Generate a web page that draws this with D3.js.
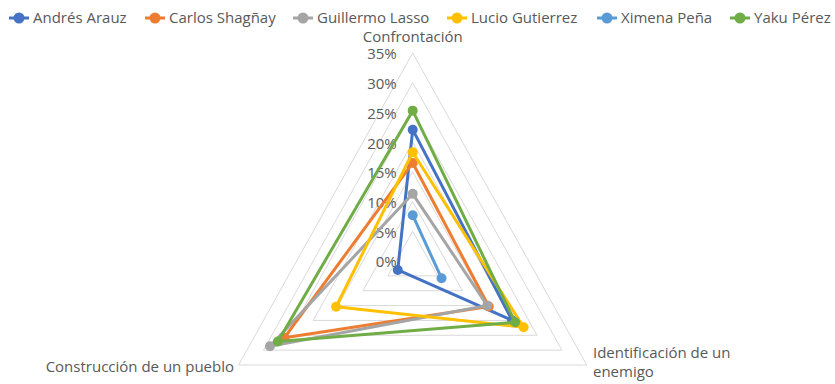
<!DOCTYPE html>
<html>
<head>
<meta charset="utf-8">
<script src="https://cdn.jsdelivr.net/npm/d3@7"></script>
<style>
  html, body { margin: 0; padding: 0; background: #fff; }
  svg { display: block; font-family: "Open Sans", sans-serif; }
</style>
</head>
<body>
<svg id="chart" width="835" height="384"></svg>
<script>
// Axes of the radar (clockwise from the top)
const axes = ["Confrontación", "Identificación de un enemigo", "Construcción de un pueblo"];

// Candidates and their shares on each axis (null = no value)
const candidates = ["Andrés Arauz", "Carlos Shagñay", "Guillermo Lasso", "Lucio Gutierrez", "Ximena Peña", "Yaku Pérez"];
const arauz    = [0.221, 0.200, 0.030];
const shagnay  = [0.165, 0.153, 0.258];
const lasso    = [0.113, 0.150, 0.287];
const gutierrez= [0.183, 0.223, 0.154];
const pena     = [0.077, 0.058, null];
const yaku     = [0.253, 0.206, 0.271];
const seriesValues = [arauz, shagnay, lasso, gutierrez, pena, yaku];

const colors = ["#4472C4", "#ED7D31", "#A5A5A5", "#FFC000", "#5B9BD5", "#70AD47"];
const tickValues = [0, 0.05, 0.10, 0.15, 0.20, 0.25, 0.30, 0.35];

const svg = d3.select("#chart");
const cx = 412.7, cy = 261;
const fontSize = 15;

// radial scales (the plot is slightly narrower than it is tall)
const rY = d3.scaleLinear().domain([0, 0.35]).range([0, 208]);
const rX = d3.scaleLinear().domain([0, 0.35]).range([0, 201]);
const angle = d3.scalePoint().domain(axes).range([0, 240]); // degrees

function pt(axis, v) {
  const a = angle(axis) * Math.PI / 180;
  return [cx + rX(v) * Math.sin(a), cy - rY(v) * Math.cos(a)];
}

// grid triangles
const grid = svg.append("g");
tickValues.filter(t => t > 0).forEach(t => {
  grid.append("path")
    .attr("d", d3.line()(axes.map(a => pt(a, t))) + "Z")
    .attr("fill", "none")
    .attr("stroke", "#d9d9d9")
    .attr("stroke-width", 1);
});

// value labels along the top axis
svg.append("g").selectAll("text")
  .data(tickValues)
  .join("text")
  .attr("x", cx - 16)
  .attr("y", d => cy - rY(d) + 1)
  .attr("dy", "0.36em")
  .attr("text-anchor", "end")
  .attr("fill", "#595959")
  .attr("font-size", fontSize)
  .text(d => d3.format(".0%")(d));

// axis labels
const lab = svg.append("g").attr("fill", "#595959").attr("font-size", fontSize);
lab.append("text").attr("x", cx).attr("y", 42).attr("text-anchor", "middle").text(axes[0]);
const idl = lab.append("text").attr("x", 593).attr("y", 358);
idl.append("tspan").attr("x", 593).text("Identificación de un");
idl.append("tspan").attr("x", 593).attr("dy", 19).text("enemigo");
lab.append("text").attr("x", 234).attr("y", 372).attr("text-anchor", "end").text(axes[2]);

// series
const line = d3.line().defined(d => d[2] != null).x(d => d[0]).y(d => d[1]);
seriesValues.forEach((vals, i) => {
  const g = svg.append("g");
  const pts = axes.map((a, j) => vals[j] == null ? [0, 0, null] : [...pt(a, vals[j]), vals[j]]);
  const closed = pts.concat([pts[0]]);
  g.append("path")
    .attr("d", line(closed))
    .attr("fill", "none")
    .attr("stroke", colors[i])
    .attr("stroke-width", 3)
    .attr("stroke-linejoin", "round");
  g.selectAll("circle")
    .data(pts.filter(p => p[2] != null))
    .join("circle")
    .attr("cx", d => d[0])
    .attr("cy", d => d[1])
    .attr("r", 5)
    .attr("fill", colors[i]);
});

// legend
const legendX = [19, 155, 303, 457, 607, 740];
const leg = svg.append("g");
candidates.forEach((name, i) => {
  const x = legendX[i], y = 18;
  leg.append("line")
    .attr("x1", x - 10).attr("x2", x + 10).attr("y1", y).attr("y2", y)
    .attr("stroke", colors[i]).attr("stroke-width", 3);
  leg.append("circle").attr("cx", x).attr("cy", y).attr("r", 5.5).attr("fill", colors[i]);
  leg.append("text")
    .attr("x", x + 14).attr("y", y).attr("dy", "0.36em")
    .attr("fill", "#595959").attr("font-size", fontSize)
    .text(name);
});
</script>
</body>
</html>
